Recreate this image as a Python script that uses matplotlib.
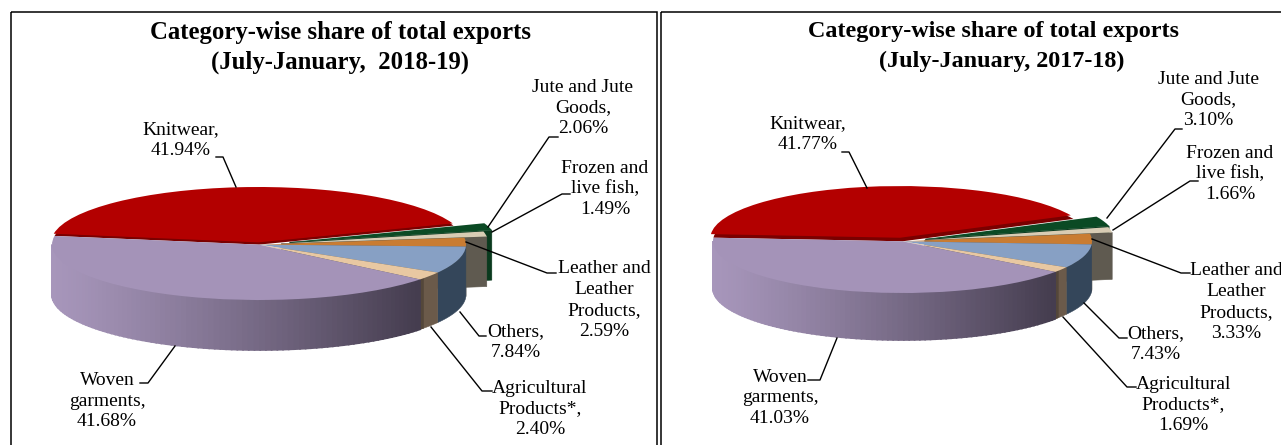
import matplotlib
matplotlib.use("Agg")
import matplotlib.pyplot as plt
from matplotlib.patches import Wedge, Rectangle, Polygon
from matplotlib.colors import to_rgb
import numpy as np

plt.rcParams['font.family'] = ['Liberation Serif', 'DejaVu Serif']

W, H = 1281, 445

categories = ['Knitwear', 'Jute and Jute\nGoods', 'Frozen and\nlive fish',
              'Leather and\nLeather\nProducts', 'Others',
              'Agricultural\nProducts*', 'Woven\ngarments']
values_2018 = [41.94, 2.06, 1.49, 2.59, 7.84, 2.40, 41.68]
values_2017 = [41.77, 3.10, 1.66, 3.33, 7.43, 1.69, 41.03]
title_2018 = ['Category-wise share of total exports', '(July-January,  2018-19)']
title_2017 = ['Category-wise share of total exports', '(July-January, 2017-18)']

top_colors = ['#b30000', '#0b4a24', '#d8ccb4', '#c97c32', '#87a0c4', '#e8c8a2', '#a493b8']
side_colors = ['#7a0000', '#0a3a1e', '#5f5a50', '#5f5a50', '#34465a', '#6b5a4a', '#a493b8']

# layout in pixels of the picture
left_panel = dict(cx=259, cy=244.6, rx=207, ry=55.4, depth=50, start=171,
                  explode=[0.04, 0.155, 0.11, 0, 0, 0, 0],
                  title_xy=[(340, 32), (340, 62)], title_size=17.8,
                  label_xy=[(181, 140), (583, 108), (605, 189), (604, 300),
                            (516, 342), (540, 409), (107, 401)],
                  leaders=[[(216, 157), (223, 157), (236, 187)],
                           [(558, 137), (549, 137), (488, 227)],
                           [(570, 194), (562, 194), (492, 232)],
                           [(556, 273), (547, 273), (466, 242)],
                           [(486, 336), (479, 336), (460, 312)],
                           [(492, 391), (482, 391), (431, 327)],
                           [(140, 383), (148, 383), (175, 346)]])
right_panel = dict(cx=902.5, cy=241.3, rx=189.5, ry=51.7, depth=47, start=176,
                   explode=[0.07, 0.13, 0.12, 0, 0, 0, 0],
                   title_xy=[(993, 31), (1002, 61)], title_size=17.4,
                   label_xy=[(808, 134), (1208, 100), (1230, 174), (1236, 302),
                             (1156, 344), (1183, 405), (780, 398)],
                   leaders=[[(842, 152), (849, 152), (867, 188)],
                            [(1182, 129), (1175, 129), (1107, 218)],
                            [(1198, 181), (1190, 181), (1113, 230)],
                            [(1190, 273), (1181, 273), (1092, 239)],
                            [(1127, 338), (1119, 338), (1084, 303)],
                            [(1136, 387), (1127, 387), (1063, 317)],
                            [(808, 380), (820, 380), (837, 338)]])


def wall_strip(ax, center, t0, t1, d, color, z, lw=0.4):
    t = np.radians(np.linspace(t0, t1, 30))
    x = center[0] + np.cos(t)
    y = center[1] + np.sin(t)
    pts = np.r_[np.c_[x, y], np.c_[x[::-1], y[::-1] - d]]
    ax.add_patch(Polygon(pts, closed=True, fc=color, ec=color, lw=lw, zorder=z, clip_on=False))


def draw_pie(fig, values, p):
    ax = fig.add_axes([(p['cx'] - p['rx']) / W, 1 - (p['cy'] + p['ry']) / H,
                       2 * p['rx'] / W, 2 * p['ry'] / H])
    wedges, _ = ax.pie(values, explode=p['explode'], colors=top_colors, startangle=p['start'],
                       counterclock=False, radius=1, wedgeprops=dict(linewidth=0))
    ax.set_aspect('auto')
    ax.set_xlim(-1, 1)
    ax.set_ylim(-1, 1)
    d = p['depth'] / p['ry']

    for w in wedges:
        w.set_zorder(5)
        w.set_clip_on(False)

    # dark edge under the knitwear slice
    k = wedges[0]
    ax.add_patch(Wedge((0, 0), 1, k.theta1, k.theta2, fc=side_colors[0], lw=0, zorder=4, clip_on=False))

    # cut faces of the two pulled out slices
    for i in (1, 2):
        w = wedges[i]
        a = np.radians(w.theta1)
        c = np.array(w.center)
        o = c + [np.cos(a), np.sin(a)]
        ax.add_patch(Polygon([c, o, o - [0, d], c - [0, d]], closed=True, fc=side_colors[i],
                             ec=side_colors[i], lw=0.4, zorder=1 + i * 0.1, clip_on=False))

    # front walls, others and agricultural flat, woven shaded left to right
    for i in (3, 4, 5):
        w = wedges[i]
        t0, t1 = max(w.theta1, -180), min(w.theta2, 0)
        if t1 > t0:
            wall_strip(ax, w.center, t0, t1, d, side_colors[i], 2)
    # darker band at the left of the agricultural wall
    w = wedges[5]
    wall_strip(ax, w.center, w.theta1, w.theta1 + 1.6, d, '#54473a', 2.5)

    w = wedges[6]
    light = np.array(to_rgb('#a796bb'))
    dark = np.array(to_rgb('#443c4e'))
    t0, t1 = max(w.theta1, -180), min(w.theta2, 0)
    edges = np.linspace(t0, t1, 90)
    for a, b in zip(edges[:-1], edges[1:]):
        f = (np.cos(np.radians((a + b) / 2)) + 1) / (1 + np.cos(np.radians(t1)))
        wall_strip(ax, w.center, a, b, d, light + (dark - light) * f ** 1.2, 3, lw=1.2)
    return ax


fig = plt.figure(figsize=(W / 100, H / 100), dpi=100)
draw_pie(fig, values_2018, left_panel)
draw_pie(fig, values_2017, right_panel)

over = fig.add_axes([0, 0, 1, 1], zorder=10)
over.set_xlim(0, W)
over.set_ylim(H, 0)
over.axis('off')
over.patch.set_alpha(0)

over.add_patch(Rectangle((10.5, 12), 646, 440, fill=False, ec='black', lw=1.1))
over.add_patch(Rectangle((660.5, 12), 640, 440, fill=False, ec='black', lw=1.1))

for values, p, title in [(values_2018, left_panel, title_2018), (values_2017, right_panel, title_2017)]:
    for line, xy in zip(title, p['title_xy']):
        over.text(xy[0], xy[1], line, ha='center', va='center',
                  fontsize=p['title_size'], fontweight='bold')
    for name, v, xy, pts in zip(categories, values, p['label_xy'], p['leaders']):
        over.text(xy[0], xy[1], f'{name},\n{v:.2f}%', ha='center', va='center',
                  fontsize=14, linespacing=1.3)
        over.plot([q[0] for q in pts], [q[1] for q in pts], color='black', lw=1)

fig.savefig('out.png', dpi=100)
